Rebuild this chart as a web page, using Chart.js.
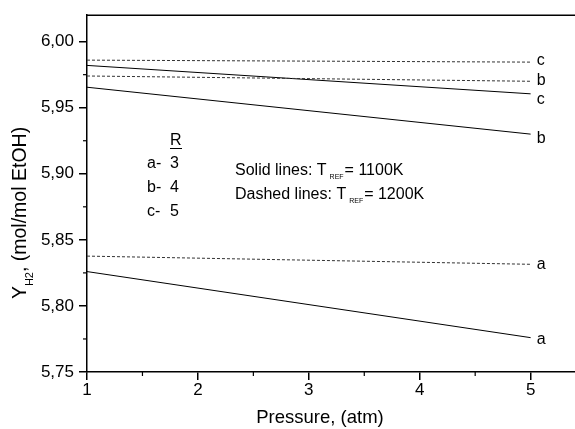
<!DOCTYPE html>
<html>
<head>
<meta charset="utf-8">
<script src="https://cdn.jsdelivr.net/npm/chart.js@4.4.0/dist/chart.umd.min.js"></script>
<style>
  html, body { margin: 0; padding: 0; background: #fff; }
  #chart-wrap { width: 575px; height: 429px; }
</style>
</head>
<body>
<div id="chart-wrap"><canvas id="yieldChart" width="575" height="429"></canvas></div>
<script>
// Pressure (atm) at both ends of each line
let pressure = [1, 5];

// Solid lines: T_REF = 1100K
let solidA = [5.826, 5.776];
let solidB = [5.9655, 5.930];
let solidC = [5.982, 5.9605];

// Dashed lines: T_REF = 1200K
let dashedA = [5.8377, 5.8315];
let dashedB = [5.974, 5.970];
let dashedC = [5.986, 5.9845];

// Axis ticks
let xTicks = [1, 2, 3, 4, 5];
let yTicks = [5.75, 5.80, 5.85, 5.90, 5.95, 6.00];
let xMinorTicks = [1.5, 2.5, 3.5, 4.5];
let yMinorTicks = [5.775, 5.825, 5.875, 5.925, 5.975];

// R table in the plot
let ratioNames = ["a-", "b-", "c-"];
let ratioValues = ["3", "4", "5"];

const FONT = "'Liberation Sans', Arial, Helvetica, sans-serif";

function toPoints(ys) {
    return pressure.map(function(p, i) { return {x: p, y: ys[i]}; });
}

function makeLine(ys, dashed, label, shift) {
    return {
        data: toPoints(ys),
        borderColor: dashed ? "#333" : "#000",
        borderWidth: 1,
        borderDash: dashed ? [3, 2] : [],
        pointRadius: 0,
        fill: false,
        endLabel: label,
        labelShift: shift
    };
}

// Extra drawing: top frame, minor ticks, line labels, notes, axis titles
const extras = {
    id: "extras",
    afterDraw(chart) {
        const ctx = chart.ctx;
        const area = chart.chartArea;
        const xs = chart.scales.x;
        const ys = chart.scales.y;
        ctx.save();
        ctx.strokeStyle = "#000";
        ctx.fillStyle = "#000";

        // top frame line
        ctx.lineWidth = 1.5;
        ctx.beginPath();
        ctx.moveTo(area.left, area.top);
        ctx.lineTo(area.right, area.top);
        ctx.stroke();

        // minor ticks
        ctx.lineWidth = 1.2;
        xMinorTicks.forEach(function(v) {
            const px = xs.getPixelForValue(v);
            ctx.beginPath();
            ctx.moveTo(px, area.bottom);
            ctx.lineTo(px, area.bottom + 4);
            ctx.stroke();
        });
        yMinorTicks.forEach(function(v) {
            const py = ys.getPixelForValue(v);
            ctx.beginPath();
            ctx.moveTo(area.left, py);
            ctx.lineTo(area.left - 4, py);
            ctx.stroke();
        });

        // labels at the line ends
        ctx.font = "16px " + FONT;
        ctx.textAlign = "left";
        ctx.textBaseline = "middle";
        chart.data.datasets.forEach(function(ds) {
            const last = ds.data[ds.data.length - 1];
            ctx.fillText(ds.endLabel, xs.getPixelForValue(last.x) + 6,
                ys.getPixelForValue(last.y) + ds.labelShift);
        });

        // R table
        ctx.fillText("R", 170, 141);
        ctx.lineWidth = 1;
        ctx.beginPath();
        ctx.moveTo(170, 148.5);
        ctx.lineTo(182, 148.5);
        ctx.stroke();
        ratioNames.forEach(function(n, i) {
            ctx.fillText(n, 147, 164 + i * 24);
            ctx.fillText(ratioValues[i], 170, 164 + i * 24);
        });

        // temperature notes
        function note(prefix, suffix, y) {
            ctx.font = "16px " + FONT;
            ctx.fillText(prefix, 235, y);
            let x = 235 + ctx.measureText(prefix).width + 3;
            ctx.font = "7px " + FONT;
            ctx.fillText("REF", x, y + 6);
            x += ctx.measureText("REF").width + 1;
            ctx.font = "16px " + FONT;
            ctx.fillText(suffix, x, y);
        }
        note("Solid lines: T", "= 1100K", 171);
        note("Dashed lines: T", "= 1200K", 195);

        // x axis title
        ctx.font = "18.5px " + FONT;
        ctx.textAlign = "center";
        ctx.fillText("Pressure, (atm)", 320, 418);

        // y axis title with subscript
        ctx.textAlign = "left";
        ctx.translate(25.5, 213);
        ctx.rotate(-Math.PI / 2);
        ctx.textBaseline = "alphabetic";
        const big = "19.5px " + FONT;
        const small = "11px " + FONT;
        ctx.font = big;
        const wY = ctx.measureText("Y").width;
        const wRest = ctx.measureText(", (mol/mol EtOH)").width;
        ctx.font = small;
        const wSub = ctx.measureText("H2").width;
        let x0 = -(wY + wSub + wRest) / 2;
        ctx.font = big;
        ctx.fillText("Y", x0, 0);
        ctx.font = small;
        ctx.fillText("H2", x0 + wY, 7);
        ctx.font = big;
        ctx.fillText(", (mol/mol EtOH)", x0 + wY + wSub, 0);

        ctx.restore();
    }
};

const canvas = document.getElementById("yieldChart").getContext("2d");

let yieldChart = new Chart(canvas, {
    type: "line",
    data: {
        datasets: [
            makeLine(dashedC, true, "c", -2),
            makeLine(dashedB, true, "b", -1),
            makeLine(solidC, false, "c", 6),
            makeLine(solidB, false, "b", 4),
            makeLine(dashedA, true, "a", 0),
            makeLine(solidA, false, "a", 2)
        ]
    },
    options: {
        responsive: false,
        animation: false,
        devicePixelRatio: 1,
        layout: {
            padding: {left: 0, top: 12, right: 0, bottom: 0}
        },
        plugins: {
            legend: {display: false},
            tooltip: {enabled: false}
        },
        scales: {
            x: {
                type: "linear",
                min: 1,
                max: 5.4,
                afterBuildTicks: function(scale) {
                    scale.ticks = xTicks.map(function(v) { return {value: v}; });
                },
                afterFit: function(scale) { scale.height = 57; },
                grid: {
                    drawOnChartArea: false,
                    color: "#000",
                    lineWidth: 1.5,
                    tickLength: 8
                },
                border: {color: "#000", width: 1.5},
                ticks: {
                    color: "#000",
                    padding: 0,
                    maxRotation: 0,
                    font: {family: FONT, size: 17},
                    callback: function(v) { return String(v); }
                }
            },
            y: {
                min: 5.75,
                max: 6.02,
                afterBuildTicks: function(scale) {
                    scale.ticks = yTicks.map(function(v) { return {value: v}; });
                },
                afterFit: function(scale) { scale.width = 87; },
                grid: {
                    drawOnChartArea: false,
                    color: "#000",
                    lineWidth: 1.5,
                    tickLength: 8
                },
                border: {color: "#000", width: 1.5},
                ticks: {
                    color: "#000",
                    padding: 5,
                    font: {family: FONT, size: 17},
                    callback: function(v) { return v.toFixed(2).replace(".", ","); }
                }
            }
        }
    },
    plugins: [extras]
});
</script>
</body>
</html>
